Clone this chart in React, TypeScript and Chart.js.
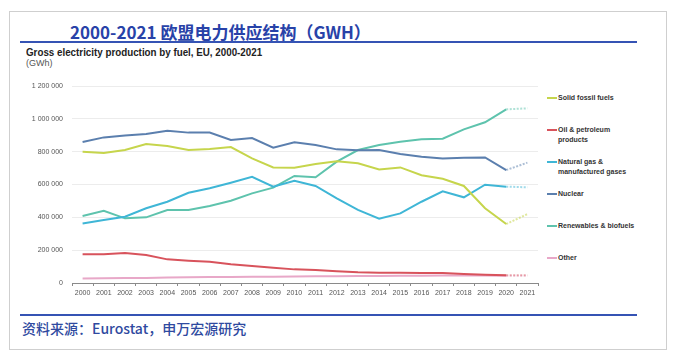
import React, { useEffect, useRef } from "react";
import { Chart, registerables } from "chart.js";

Chart.register(...registerables);

const years = ["2000","2001","2002","2003","2004","2005","2006","2007","2008","2009","2010","2011","2012","2013","2014","2015","2016","2017","2018","2019","2020","2021"];
const solidFossil = [800,792,810,846,834,810,816,828,759,704,702,725,741,729,692,704,656,635,591,455,359,420].map(v => v * 1000);
const oilPetroleum = [175,175,183,171,144,136,130,114,104,93,83,79,71,65,63,63,61,61,55,51,47,47].map(v => v * 1000);
const naturalGas = [363,384,404,455,495,550,577,611,647,587,623,591,516,445,392,424,495,558,522,599,587,583].map(v => v * 1000);
const nuclear = [859,887,899,907,928,916,916,871,883,824,857,840,814,808,810,786,769,759,763,765,688,733].map(v => v * 1000);
const renewables = [408,440,394,400,445,445,469,501,546,581,652,644,739,810,840,861,875,879,936,979,1058,1064].map(v => v * 1000);
const other = [27,29,30,31,33,35,36,37,38,38,40,41,41,42,43,44,44,45,45,45,44,45].map(v => v * 1000);

const seriesNames = ["Solid fossil fuels", "Oil & petroleum products", "Natural gas & manufactured gases", "Nuclear", "Renewables & biofuels", "Other"];
const legendLines = [["Solid fossil fuels"], ["Oil & petroleum", "products"], ["Natural gas &", "manufactured gases"], ["Nuclear"], ["Renewables & biofuels"], ["Other"]];
const colors = ["#c6d54c", "#d8535c", "#3fb6d6", "#5b7fae", "#5ec3ad", "#e8a8c8"];
const fadedColors = ["rgba(198,213,76,0.55)", "rgba(216,83,92,0.45)", "rgba(63,182,214,0.5)", "rgba(91,127,174,0.5)", "rgba(94,195,173,0.5)", "rgba(232,168,200,0.5)"];
const yTicks = [0, 200000, 400000, 600000, 800000, 1000000, 1200000];

function fmt(v: number) {
  return String(v).replace(/\B(?=(\d{3})+(?!\d))/g, " ");
}

export default function App() {
  const ref = useRef<HTMLCanvasElement | null>(null);
  useEffect(() => {
    if (!ref.current) return;
    const all = [solidFossil, oilPetroleum, naturalGas, nuclear, renewables, other];
    const chart = new Chart(ref.current, {
      type: "line",
      data: {
        labels: years,
        datasets: all.map((d, i) => ({
          label: seriesNames[i],
          data: d,
          borderColor: colors[i],
          backgroundColor: colors[i],
          borderWidth: 2,
          pointRadius: 0,
          tension: 0,
          segment: {
            borderDash: (ctx: any) => (ctx.p0DataIndex === 20 ? [2, 1.5] : undefined),
            borderColor: (ctx: any) => (ctx.p0DataIndex === 20 ? fadedColors[i] : undefined),
          },
        })),
      },
      options: {
        animation: false,
        responsive: false,
        maintainAspectRatio: false,
        layout: { padding: { top: 16, right: 7, left: 0, bottom: 0 } },
        plugins: { legend: { display: false }, tooltip: { enabled: false } },
        scales: {
          x: {
            offset: true,
            grid: { offset: true, drawOnChartArea: false, drawTicks: true, tickLength: 3, color: "#8a8a8a" },
            border: { display: true, color: "#8a8a8a" },
            ticks: { font: { size: 7, family: "Liberation Sans Narrow, Arial Narrow, sans-serif" }, color: "#555", padding: 3, maxRotation: 0, autoSkip: false },
            afterFit: (s: any) => { s.height = 17; },
          },
          y: {
            min: 0,
            max: 1200000,
            afterBuildTicks: (s: any) => { s.ticks = yTicks.map(v => ({ value: v })); },
            grid: { color: "#ececec", drawTicks: false },
            border: { display: false },
            ticks: { font: { size: 7, family: "Liberation Sans Narrow, Arial Narrow, sans-serif" }, color: "#555", padding: 9, callback: (v: any) => fmt(Number(v)) },
            afterFit: (s: any) => { s.width = 62; },
          },
        },
      },
    });
    return () => chart.destroy();
  }, []);

  const legendY = [97, 129, 161, 193, 225, 257];

  return (
    <div style={{ position: "absolute", left: 0, top: 0, width: 682, height: 362, background: "#fff", fontFamily: "Liberation Sans, Arial, sans-serif" }}>
      <div style={{ position: "absolute", left: 9, top: 11, width: 656, height: 337, border: "1px solid #cfcfcf" }} />
      <div style={{ position: "absolute", left: 70, top: 20, fontFamily: "Noto Sans CJK SC, sans-serif", fontWeight: 700, fontSize: 17, color: "#2842a8", whiteSpace: "nowrap", lineHeight: "23px" }}>
        2000-2021 欧盟电力供应结构（GWH）
      </div>
      <div style={{ position: "absolute", left: 20, top: 41, width: 617, height: 2, background: "#3553b4" }} />
      <div style={{ position: "absolute", left: 26, top: 46, fontFamily: "Liberation Sans Narrow, Arial Narrow, sans-serif", fontWeight: 700, fontSize: 11, color: "#222", whiteSpace: "nowrap", lineHeight: "12px", transform: "scaleX(0.89)", transformOrigin: "left center" }}>
        Gross electricity production by fuel, EU, 2000-2021
      </div>
      <div style={{ position: "absolute", left: 26, top: 58, fontFamily: "Liberation Sans Narrow, Arial Narrow, sans-serif", fontSize: 9, color: "#555", whiteSpace: "nowrap", lineHeight: "11px" }}>
        (GWh)
      </div>
      <canvas ref={ref} width={535} height={230} style={{ position: "absolute", left: 10, top: 70, width: 535, height: 230 }} />
      {legendLines.map((lines, i) => (
        <div key={i} style={{ position: "absolute", left: 547, top: legendY[i] - 4, whiteSpace: "nowrap" }}>
          <div style={{ position: "absolute", left: 0, top: 4, width: 10, height: 1.5, background: colors[i] }} />
          <div style={{ position: "absolute", left: 11, top: 0, fontFamily: "Liberation Sans Narrow, Arial Narrow, sans-serif", fontWeight: 700, fontSize: 7, lineHeight: "10px", color: "#333" }}>
            {lines.map((t, j) => <div key={j}>{t}</div>)}
          </div>
        </div>
      ))}
      <div style={{ position: "absolute", left: 20, top: 314, width: 617, height: 2, background: "#3553b4" }} />
      <div style={{ position: "absolute", left: 22, top: 319, fontFamily: "Noto Sans CJK SC, sans-serif", fontWeight: 500, fontSize: 14, color: "#2f4aa0", whiteSpace: "nowrap", lineHeight: "18px" }}>
        资料来源：Eurostat，申万宏源研究
      </div>
    </div>
  );
}
